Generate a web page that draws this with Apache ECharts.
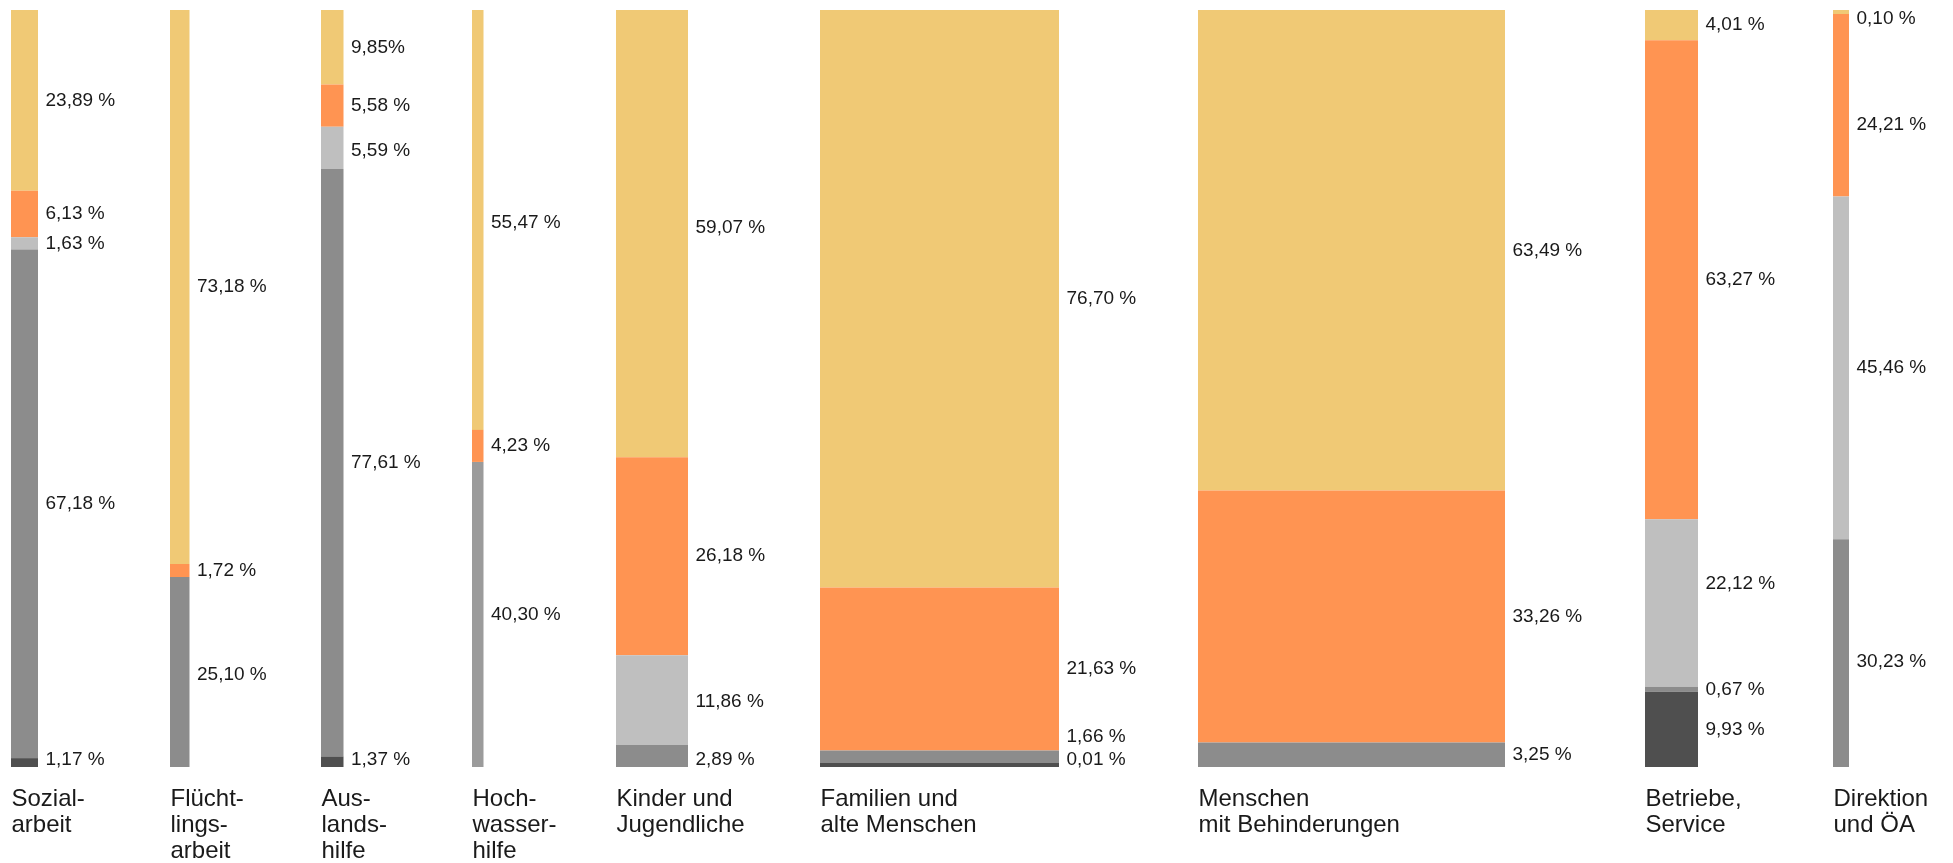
<!DOCTYPE html>
<html>
<head>
<meta charset="utf-8">
<script src="https://cdn.jsdelivr.net/npm/echarts@6/dist/echarts.min.js"></script>
<style>
html,body{margin:0;padding:0;background:#fff;}
#chart{width:1953px;height:863px;}
</style>
</head>
<body>
<div id="chart"></div>
<script>
// ---- data ----
const categories = [
  'Sozial-\narbeit', 'Flücht-\nlings-\narbeit', 'Aus-\nlands-\nhilfe', 'Hoch-\nwasser-\nhilfe',
  'Kinder und\nJugendliche', 'Familien und\nalte Menschen', 'Menschen\nmit Behinderungen',
  'Betriebe,\nService', 'Direktion\nund ÖA'
];
// relative column sizes (bar widths)
const columnSizes = [27, 19.5, 22.5, 11.5, 72, 239, 307, 53, 16];
// shares in percent, from top to bottom of each column
const gelb       = [23.89, 73.18, 9.85, 55.47, 59.07, 76.70, 63.49, 4.01, 0.10];
const orange     = [6.13, 1.72, 5.58, 4.23, 26.18, 21.63, 33.26, 63.27, 24.21];
const hellgrau   = [1.63, null, 5.59, null, 11.86, null, null, 22.12, 45.46];
const mittelgrau = [null, null, null, 40.30, null, null, null, null, null];
const grau       = [67.18, 25.10, 77.61, null, 2.89, 1.66, 3.25, 0.67, 30.23];
const dunkelgrau = [1.17, null, 1.37, null, null, 0.01, null, 9.93, null];
// label text exceptions (column-layer)
const labelOverrides = { '2-0': '9,85%' };

// ---- styling / layout ----
const layers = [
  { name: 'gelb', values: gelb, color: '#F0C975' },
  { name: 'orange', values: orange, color: '#FF9452' },
  { name: 'hellgrau', values: hellgrau, color: '#BFBFBF' },
  { name: 'mittelgrau', values: mittelgrau, color: '#9B9B9B' },
  { name: 'grau', values: grau, color: '#8C8C8C' },
  { name: 'dunkelgrau', values: dunkelgrau, color: '#4F4F4F' }
];
const GAPS = [132, 131.5, 128.5, 132.5, 132, 139, 140, 135];
const MIN_SEG_PX = 4;
const LABEL_SPACING = 23;
// manual label nudges in px (column-layer)
const LABEL_NUDGE = { '4-0': -6, '7-2': -19, '8-1': 20, '8-4': 9, '3-0': 3, '1-4': 3, '4-4': 5, '2-2': 3, '4-2': 2 };
const FONT = '"Liberation Sans", Arial, Helvetica, sans-serif';

const lefts = [];
{
  let acc = 0;
  for (let i = 0; i < columnSizes.length; i++) {
    lefts.push(acc);
    acc += columnSizes[i] + (i < GAPS.length ? GAPS[i] : 0);
  }
}
const xTotal = lefts[lefts.length - 1] + columnSizes[columnSizes.length - 1];

function fmt(v) { return v.toFixed(2).replace('.', ',') + ' %'; }

function columnLayout(col, api) {
  const top = api.coord([0, 0])[1];
  const bottom = api.coord([0, 100])[1];
  const H = bottom - top;
  const vals = layers.map(l => (l.values[col] == null ? 0 : l.values[col]));
  let h = vals.map(v => v / 100 * H);
  const small = h.map(x => x > 0 && x < MIN_SEG_PX);
  let fixed = 0, rest = 0;
  h.forEach((x, i) => { if (small[i]) fixed += MIN_SEG_PX; else rest += x; });
  const sc = rest > 0 ? (H - fixed) / rest : 1;
  h = h.map((x, i) => x === 0 ? 0 : (small[i] ? MIN_SEG_PX : x * sc));
  const segs = {};
  const order = [];
  let y = top;
  for (let i = 0; i < layers.length; i++) {
    if (vals[i] > 0) {
      segs[i] = { y0: y, y1: y + h[i] };
      order.push(i);
      y += h[i];
    }
  }
  const ly = order.map(i => {
    let c = (segs[i].y0 + segs[i].y1) / 2 + (LABEL_NUDGE[col + '-' + i] || 0);
    return Math.min(Math.max(c, top + 8.5), bottom - 7);
  });
  for (let k = ly.length - 2; k >= 0; k--) {
    if (ly[k] > ly[k + 1] - LABEL_SPACING) ly[k] = ly[k + 1] - LABEL_SPACING;
  }
  order.forEach((i, k) => { segs[i].ly = ly[k]; });
  return segs;
}

function makeLayerSeries(li) {
  const layer = layers[li];
  return {
    type: 'custom',
    name: layer.name,
    coordinateSystem: 'cartesian2d',
    data: layer.values.map((v, col) => [col, v == null ? 0 : v]),
    renderItem: function (params, api) {
      const col = params.dataIndex;
      const v = layer.values[col];
      if (v == null || v <= 0) return null;
      const segs = columnLayout(col, api);
      const s = segs[li];
      const x0 = api.coord([lefts[col], 0])[0];
      const x1 = api.coord([lefts[col] + columnSizes[col], 0])[0];
      const txt = labelOverrides[col + '-' + li] || fmt(v);
      return {
        type: 'group',
        children: [
          { type: 'rect', shape: { x: x0, y: s.y0, width: x1 - x0, height: s.y1 - s.y0 },
            style: { fill: layer.color } },
          { type: 'text', x: x1 + 7.5, y: s.ly,
            style: { text: txt, fill: '#1a1a1a', font: '19px ' + FONT,
                     textAlign: 'left', textVerticalAlign: 'middle' } }
        ]
      };
    }
  };
}

const series = layers.map((l, i) => makeLayerSeries(i));
series.push({
  type: 'custom',
  name: 'kategorien',
  coordinateSystem: 'cartesian2d',
  data: categories.map((c, i) => [i, 100]),
  renderItem: function (params, api) {
    const col = params.dataIndex;
    const p = api.coord([lefts[col], 100]);
    return {
      type: 'text', x: p[0] + 0.5, y: p[1] + 19,
      style: { text: categories[col], fill: '#1a1a1a', font: '24px ' + FONT,
               lineHeight: 26, textAlign: 'left', textVerticalAlign: 'top' }
    };
  }
});

const chart = echarts.init(document.getElementById('chart'), null, { renderer: 'canvas' });
chart.setOption({
  animation: false,
  backgroundColor: '#ffffff',
  grid: { left: 11, top: 10, width: xTotal, bottom: 96, containLabel: false },
  xAxis: { type: 'value', min: 0, max: xTotal, show: false },
  yAxis: { type: 'value', min: 0, max: 100, inverse: true, show: false },
  tooltip: { show: false },
  series: series
});
</script>
</body>
</html>
